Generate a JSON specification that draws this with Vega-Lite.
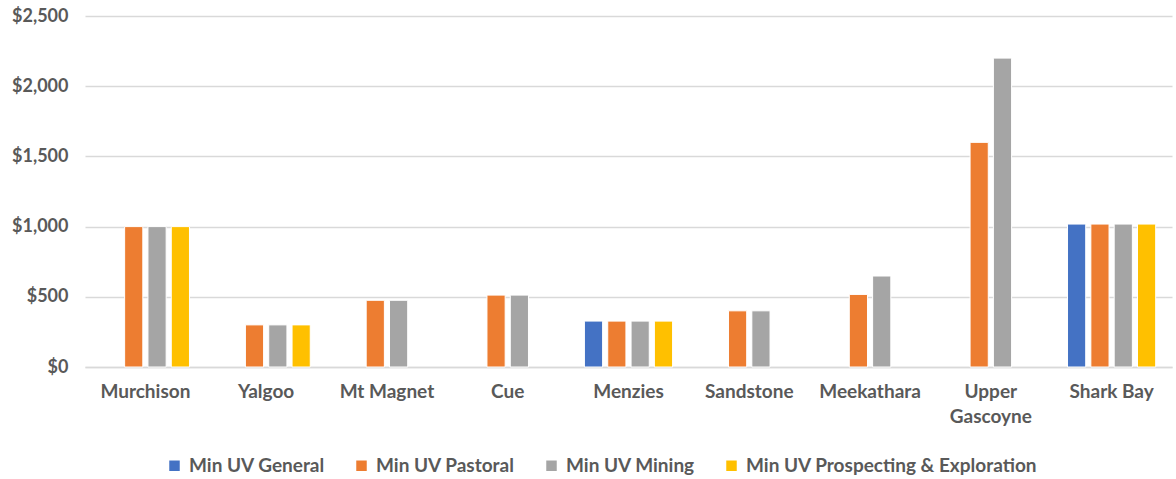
{
  "$schema": "https://vega.github.io/schema/vega-lite/v6.json",
  "width": 1087,
  "height": 351,
  "autosize": {"type": "none"},
  "padding": {"left": 85, "top": 16, "right": 4, "bottom": 112},
  "background": "white",
  "config": {
    "font": "Lato",
    "view": {"stroke": null}
  },
  "data": {
    "values": [
      {"region": "Murchison", "series": "Min UV Pastoral", "value": 1000},
      {"region": "Murchison", "series": "Min UV Mining", "value": 1000},
      {"region": "Murchison", "series": "Min UV Prospecting & Exploration", "value": 1000},
      {"region": "Yalgoo", "series": "Min UV Pastoral", "value": 300},
      {"region": "Yalgoo", "series": "Min UV Mining", "value": 300},
      {"region": "Yalgoo", "series": "Min UV Prospecting & Exploration", "value": 300},
      {"region": "Mt Magnet", "series": "Min UV Pastoral", "value": 475},
      {"region": "Mt Magnet", "series": "Min UV Mining", "value": 475},
      {"region": "Cue", "series": "Min UV Pastoral", "value": 512},
      {"region": "Cue", "series": "Min UV Mining", "value": 512},
      {"region": "Menzies", "series": "Min UV General", "value": 327},
      {"region": "Menzies", "series": "Min UV Pastoral", "value": 327},
      {"region": "Menzies", "series": "Min UV Mining", "value": 327},
      {"region": "Menzies", "series": "Min UV Prospecting & Exploration", "value": 327},
      {"region": "Sandstone", "series": "Min UV Pastoral", "value": 400},
      {"region": "Sandstone", "series": "Min UV Mining", "value": 400},
      {"region": "Meekathara", "series": "Min UV Pastoral", "value": 517},
      {"region": "Meekathara", "series": "Min UV Mining", "value": 648},
      {"region": "Upper Gascoyne", "series": "Min UV Pastoral", "value": 1600},
      {"region": "Upper Gascoyne", "series": "Min UV Mining", "value": 2200},
      {"region": "Shark Bay", "series": "Min UV General", "value": 1018},
      {"region": "Shark Bay", "series": "Min UV Pastoral", "value": 1018},
      {"region": "Shark Bay", "series": "Min UV Mining", "value": 1018},
      {"region": "Shark Bay", "series": "Min UV Prospecting & Exploration", "value": 1018}
    ]
  },
  "mark": {"type": "bar", "stroke": "white", "strokeWidth": 1},
  "encoding": {
    "x": {
      "field": "region",
      "type": "nominal",
      "sort": ["Murchison", "Yalgoo", "Mt Magnet", "Cue", "Menzies", "Sandstone", "Meekathara", "Upper Gascoyne", "Shark Bay"],
      "scale": {"paddingInner": 0.27, "paddingOuter": 0.135},
      "axis": {
        "title": null,
        "labelAngle": 0,
        "labelFont": "Lato",
        "labelFontSize": 19,
        "labelFontWeight": "bold",
        "labelColor": "#595959",
        "labelPadding": 15,
        "labelLineHeight": 25,
        "labelExpr": "datum.label == 'Upper Gascoyne' ? ['Upper', 'Gascoyne'] : datum.label",
        "ticks": false,
        "domainColor": "#D9D9D9",
        "domainWidth": 1.5,
        "grid": false
      }
    },
    "xOffset": {
      "field": "series",
      "type": "nominal",
      "scale": {
        "domain": ["Min UV General", "Min UV Pastoral", "Min UV Mining", "Min UV Prospecting & Exploration"],
        "paddingInner": 0.22
      }
    },
    "y": {
      "field": "value",
      "type": "quantitative",
      "scale": {"domain": [0, 2500]},
      "axis": {
        "title": null,
        "values": [0, 500, 1000, 1500, 2000, 2500],
        "format": "$,.0f",
        "labelFont": "Lato",
        "labelFontSize": 18,
        "labelFontWeight": "bold",
        "labelColor": "#595959",
        "labelPadding": 17,
        "ticks": false,
        "domain": false,
        "gridColor": "#D9D9D9",
        "gridWidth": 1.5
      }
    },
    "color": {
      "field": "series",
      "type": "nominal",
      "scale": {
        "domain": ["Min UV General", "Min UV Pastoral", "Min UV Mining", "Min UV Prospecting & Exploration"],
        "range": ["#4472C4", "#ED7D31", "#A5A5A5", "#FFC000"]
      },
      "legend": {
        "title": null,
        "orient": "none",
        "legendX": 80,
        "legendY": 440,
        "direction": "horizontal",
        "columns": 4,
        "symbolType": "square",
        "symbolSize": 110,
        "symbolStrokeWidth": 0,
        "labelFont": "Lato",
        "labelFontSize": 19,
        "labelFontWeight": "bold",
        "labelColor": "#595959",
        "labelOffset": 5,
        "columnPadding": 27,
        "padding": 0,
        "labelLimit": 400
      }
    }
  }
}
